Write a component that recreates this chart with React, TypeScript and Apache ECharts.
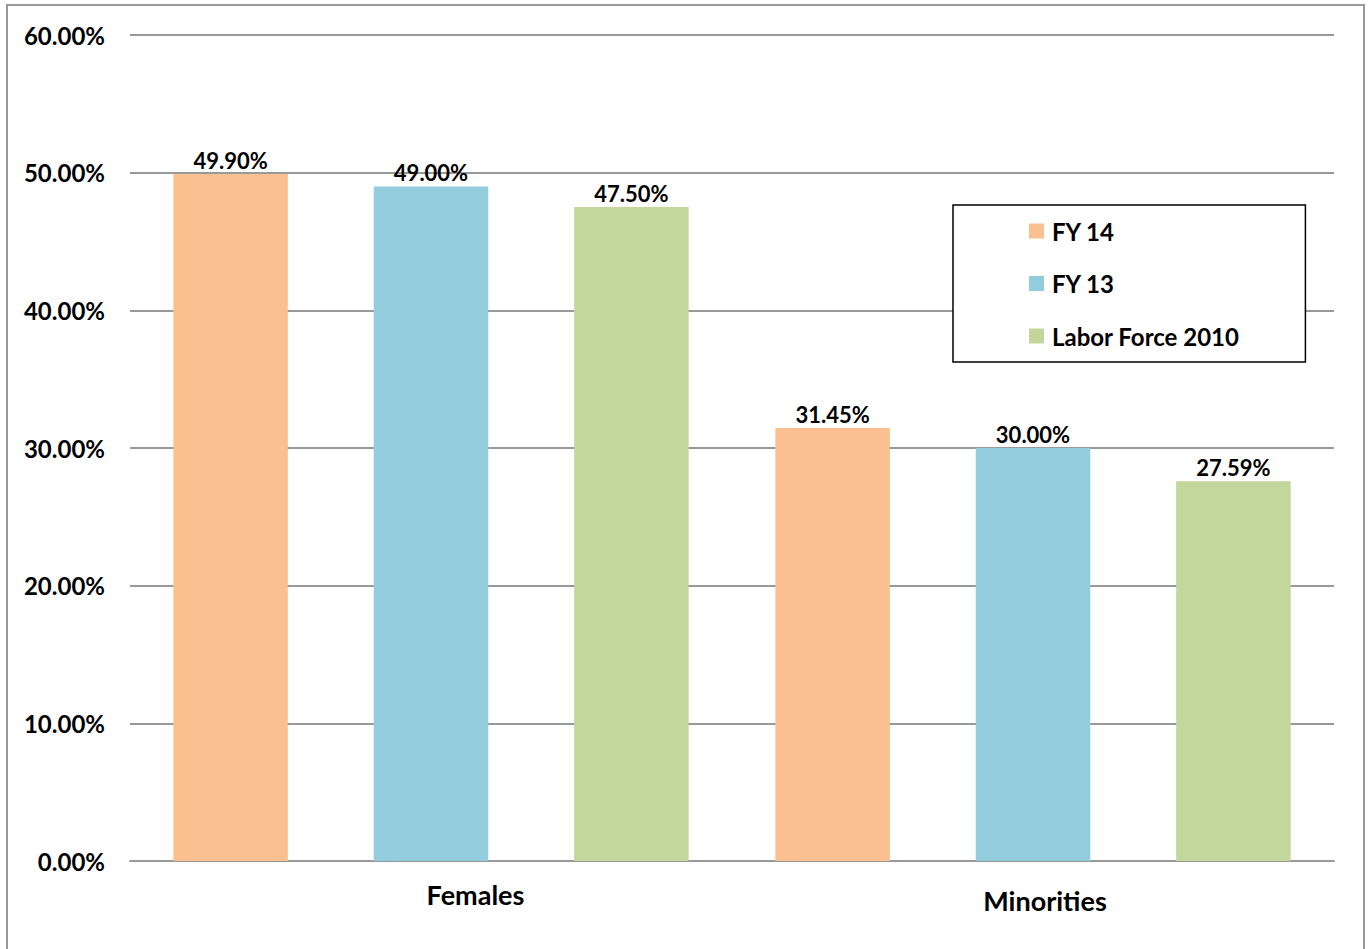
import React, { useEffect, useRef } from "react";
import * as echarts from "echarts";

const categories = ["Females", "Minorities"];
const seriesNames = ["FY 14", "FY 13", "Labor Force 2010"];
const fy14 = [49.9, 31.45];
const fy13 = [49.0, 30.0];
const laborForce2010 = [47.5, 27.59];
const yTicks = { min: 0, max: 60, interval: 10 };
const colors = ["#FAC090", "#93CDDD", "#C3D69B"];

const FONT = "Lato, 'Noto Sans', sans-serif";

export default function App() {
  const ref = useRef<HTMLDivElement>(null);

  useEffect(() => {
    if (!ref.current) return;
    const chart = echarts.init(ref.current, null, { renderer: "svg" });
    const values = [fy14, fy13, laborForce2010];

    chart.setOption({
      animation: false,
      backgroundColor: "#fff",
      textStyle: { fontFamily: FONT },
      grid: { left: 130, right: 35, top: 35, bottom: 88, containLabel: false },
      legend: {
        orient: "vertical",
        left: 953,
        top: 205,
        padding: [14, 66, 14, 76],
        itemGap: 28.5,
        itemWidth: 15,
        itemHeight: 15,
        icon: "rect",
        borderColor: "#000",
        borderWidth: 1.5,
        backgroundColor: "#fff",
        textStyle: {
          fontFamily: FONT,
          fontWeight: "bold",
          fontSize: 24,
          color: "#000",
          padding: [0, 0, 0, 3],
        },
        data: seriesNames,
      },
      xAxis: {
        type: "category",
        data: [
          { value: categories[0], textStyle: { padding: [0, 0, 0, 89] } },
          { value: categories[1], textStyle: { padding: [6, 0, 0, 24] } },
        ],
        axisLine: { show: true, lineStyle: { color: "#999", width: 2 } },
        axisTick: { show: false },
        axisLabel: {
          margin: 20,
          fontFamily: FONT,
          fontWeight: "bold",
          fontSize: 27,
          color: "#000",
        },
      },
      yAxis: {
        type: "value",
        min: yTicks.min,
        max: yTicks.max,
        interval: yTicks.interval,
        axisLine: { show: false },
        axisTick: { show: false },
        splitLine: { lineStyle: { color: "#999", width: 2 } },
        axisLabel: {
          margin: 25,
          fontFamily: FONT,
          fontWeight: "bold",
          fontSize: 24,
          color: "#000",
          formatter: (v: number) => v.toFixed(2) + "%",
        },
      },
      series: seriesNames.map((name, i) => ({
        name,
        type: "bar",
        data: values[i],
        barGap: "75%",
        barCategoryGap: "14.4%",
        itemStyle: { color: colors[i] },
        label: {
          show: true,
          position: "top",
          distance: 3,
          fontFamily: FONT,
          fontWeight: "bold",
          fontSize: 22,
          color: "#000",
          formatter: (p: any) => Number(p.value).toFixed(2) + "%",
        },
      })),
      graphic: [
        {
          type: "rect",
          shape: { x: 7, y: 5, width: 1357, height: 1000 },
          style: { fill: "none", stroke: "#999", lineWidth: 2 },
          silent: true,
          z: 100,
        },
      ],
    });

    return () => chart.dispose();
  }, []);

  return (
    <div
      ref={ref}
      style={{ position: "absolute", left: 0, top: 0, width: 1369, height: 949 }}
    />
  );
}
